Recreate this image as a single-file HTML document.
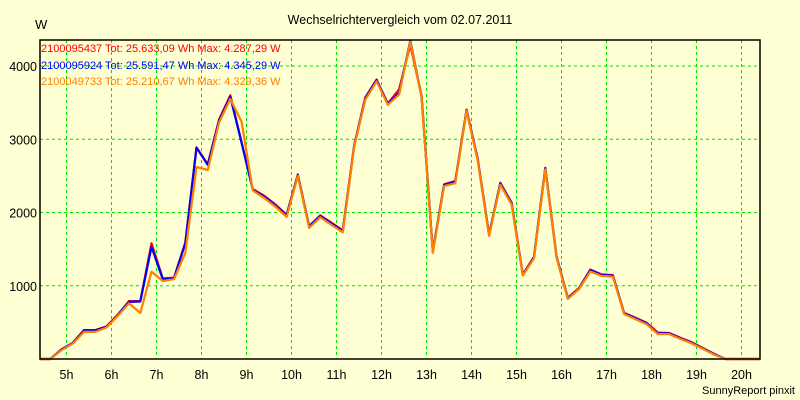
<!DOCTYPE html>
<html><head><meta charset="utf-8"><style>
html,body{margin:0;padding:0;background:#FFFFD4;}
svg{display:block;font-family:"Liberation Sans",sans-serif;}
</style></head><body>
<svg id="chart" width="800" height="400">
<rect x="0" y="0" width="800" height="400" fill="#FFFFD4"/>
<text x="400" y="24" text-anchor="middle" font-size="12.5" fill="#000">Wechselrichtervergleich vom 02.07.2011</text>
<text x="35" y="29" font-size="13" fill="#000">W</text>
<g id="grid"></g>
<g id="series"></g>
<rect x="40" y="40" width="720" height="319" fill="none" stroke="#000" stroke-width="1.5"/>
<g id="ticks"></g>
<g>
<text x="41" y="52" font-size="11" fill="#FF0000">2100095437 Tot: 25.633,09 Wh Max: 4.287,29 W</text>
<text x="41" y="69" font-size="11" fill="#0000FF">2100095924 Tot: 25.591,47 Wh Max: 4.345,29 W</text>
<text x="41" y="85" font-size="11" fill="#FF8000">2100049733 Tot: 25.210,67 Wh Max: 4.329,36 W</text>
</g>
<text x="795" y="394" text-anchor="end" font-size="11" fill="#000">SunnyReport pinxit</text>
</svg>
<script>
const yTicks=[1000,2000,3000,4000];
const xTicks=[5,6,7,8,9,10,11,12,13,14,15,16,17,18,19,20];
const times=[4.4,4.64,4.89,5.14,5.39,5.64,5.89,6.14,6.39,6.64,6.89,7.14,7.39,7.64,7.89,8.14,8.39,8.64,8.89,9.14,9.39,9.64,9.89,10.14,10.39,10.64,10.89,11.14,11.39,11.64,11.89,12.14,12.39,12.64,12.89,13.14,13.39,13.64,13.89,14.14,14.39,14.64,14.89,15.14,15.39,15.64,15.89,16.14,16.39,16.64,16.89,17.14,17.39,17.64,17.89,18.14,18.39,18.64,18.89,19.14,19.39,19.64,19.89,20.14,20.42];
const redSeries=[0,0,130,220,395,395,445,605,790,790,1580,1100,1110,1590,2890,2660,3270,3600,2960,2320,2230,2110,1970,2520,1815,1960,1860,1755,2910,3570,3815,3490,3680,4287,3590,1470,2385,2430,3405,2725,1700,2405,2135,1155,1395,2610,1400,835,970,1220,1155,1145,630,565,495,360,355,290,230,150,70,0,0,0,0];
const blueSeries=[0,0,130,220,390,390,440,600,780,785,1530,1090,1100,1580,2885,2650,3260,3580,2950,2310,2220,2100,1960,2510,1806,1952,1850,1747,2900,3560,3810,3480,3630,4345,3580,1465,2375,2420,3400,2717,1693,2398,2126,1147,1388,2603,1397,828,965,1215,1147,1138,624,556,487,351,351,283,223,146,68,0,0,0,0];
const orangeSeries=[0,0,120,210,370,370,430,590,760,628,1192,1065,1090,1447,2621,2580,3230,3550,3240,2300,2200,2080,1940,2500,1790,1935,1830,1730,2890,3540,3790,3470,3610,4329,3570,1450,2360,2400,3390,2700,1680,2380,2110,1140,1375,2590,1385,820,955,1195,1135,1125,615,545,475,340,340,275,215,138,60,0,0,0,0];

function xs(t){return 66.5+(t-5)*45;}
function ys(v){return 359-v*0.07325;}
const NS="http://www.w3.org/2000/svg";
const grid=document.getElementById('grid');
const ticks=document.getElementById('ticks');
yTicks.forEach(v=>{
  const l=document.createElementNS(NS,'line');
  l.setAttribute('x1',40);l.setAttribute('x2',760);
  l.setAttribute('y1',ys(v));l.setAttribute('y2',ys(v));
  l.setAttribute('stroke','#00E000');l.setAttribute('stroke-dasharray','3,3');l.setAttribute('stroke-width','1');
  
  
  grid.appendChild(l);
  const t=document.createElementNS(NS,'text');
  t.setAttribute('x',37);t.setAttribute('y',ys(v)+5);t.setAttribute('text-anchor','end');t.setAttribute('font-size','12.5');
  t.textContent=v;
  
  
  ticks.appendChild(t);
});
xTicks.forEach(h=>{
  const l=document.createElementNS(NS,'line');
  l.setAttribute('x1',xs(h));l.setAttribute('x2',xs(h));
  l.setAttribute('y1',40);l.setAttribute('y2',359);
  l.setAttribute('stroke','#00E000');l.setAttribute('stroke-dasharray','3,3');l.setAttribute('stroke-width','1');
  
  
  grid.appendChild(l);
  const t=document.createElementNS(NS,'text');
  t.setAttribute('x',xs(h));t.setAttribute('y',379);t.setAttribute('text-anchor','middle');t.setAttribute('font-size','12.5');
  t.textContent=h+'h';
  
  
  ticks.appendChild(t);
});
const sg=document.getElementById('series');
[[redSeries,'#FF0000','line-red'],[blueSeries,'#0000FF','line-blue'],[orangeSeries,'#FF8000','line-orange']].forEach(([d,c,n])=>{
  const p=document.createElementNS(NS,'polyline');
  p.setAttribute('points',d.map((v,i)=>xs(times[i]).toFixed(1)+','+ys(v).toFixed(1)).join(' '));
  p.setAttribute('fill','none');p.setAttribute('stroke',c);p.setAttribute('stroke-width','2.2');p.setAttribute('stroke-linejoin','round');
  
  
  sg.appendChild(p);
});
</script>
</body></html>
